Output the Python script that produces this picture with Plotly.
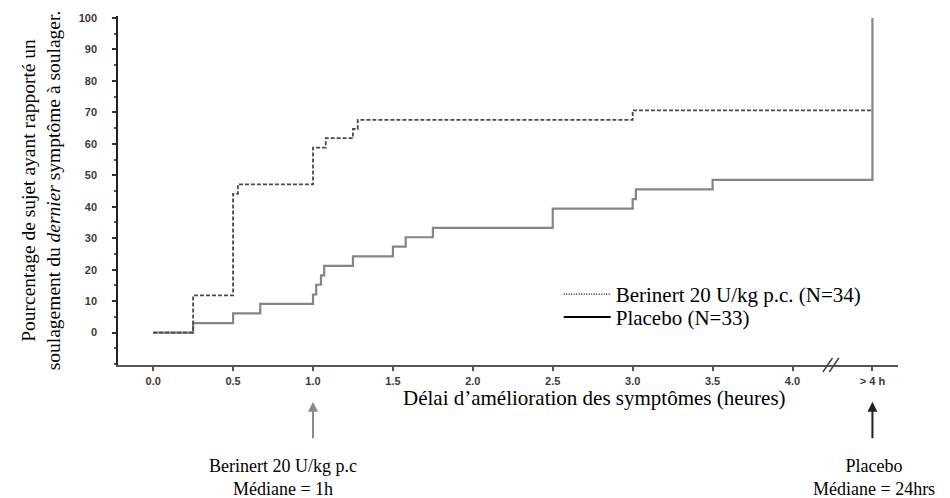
import plotly.graph_objects as go

# ---- data ----
ber_x = [0, 0.25, 0.5, 0.53, 1.0, 1.08, 1.25, 1.28, 3.0, 4.5]
ber_y = [0, 11.8, 44.1, 47.1, 58.8, 61.8, 64.7, 67.6, 70.6, 70.6]

pla_x = [0, 0.25, 0.5, 0.67, 1.0, 1.02, 1.05, 1.07, 1.25, 1.5, 1.58, 1.75,
         2.5, 3.0, 3.02, 3.5, 4.5]
pla_y = [0, 3.0, 6.1, 9.1, 12.1, 15.2, 18.2, 21.2, 24.2, 27.3, 30.3, 33.3,
         39.4, 42.4, 45.5, 48.5, 100]

x_tickvals = [0, 0.5, 1.0, 1.5, 2.0, 2.5, 3.0, 3.5, 4.0, 4.5]
x_ticktext = ["0.0", "0.5", "1.0", "1.5", "2.0", "2.5", "3.0", "3.5", "4.0", "> 4 h"]
y_tickvals = [0, 10, 20, 30, 40, 50, 60, 70, 80, 90, 100]

ber_name = "Berinert 20 U/kg p.c. (N=34)"
pla_name = "Placebo (N=33)"
ber_median_x = 1.0
pla_median_x = 4.5
break_x = 4.24

SERIF = "Liberation Serif"
SANS = "Liberation Sans"

fig = go.Figure()

fig.add_trace(go.Scatter(
    x=pla_x, y=pla_y, mode="lines", line_shape="hv",
    line=dict(color="#858585", width=2.2), showlegend=False, name=pla_name))
fig.add_trace(go.Scatter(
    x=ber_x, y=ber_y, mode="lines", line_shape="hv",
    line=dict(color="#4a4a4a", width=1.8, dash="4px,2px"), showlegend=False,
    name=ber_name))

# legend-only entries (styled like the reference legend)
fig.add_trace(go.Scatter(
    x=[None], y=[None], mode="lines", name=ber_name, legend="legend",
    line=dict(color="black", width=1.2, dash="1px,1.5px")))
fig.add_trace(go.Scatter(
    x=[None], y=[None], mode="lines", name=pla_name, legend="legend2",
    line=dict(color="black", width=2)))

leg_common = dict(xanchor="left", yanchor="top", bgcolor="rgba(0,0,0,0)",
                  font=dict(family=SERIF, size=21), itemwidth=47)

fig.update_layout(
    width=950, height=498,
    margin=dict(l=118, r=52, t=16, b=133),
    paper_bgcolor="white", plot_bgcolor="white",
    font=dict(family=SERIF, size=16, color="black"),
    legend=dict(x=0.565, y=0.261, **leg_common),
    legend2=dict(x=0.565, y=0.195, **leg_common),
    xaxis=dict(range=[-0.22, 4.66], showgrid=False, zeroline=False,
               showline=True, linecolor="#555", linewidth=1.5,
               tickvals=x_tickvals, ticktext=x_ticktext,
               ticks="outside", ticklen=4, tickcolor="#555", tickwidth=1.5,
               tickfont=dict(family=SANS, size=11, color="#3a3a3a", weight="bold"),
               ticklabelstandoff=1),
    yaxis=dict(range=[-10.3, 100.6], showgrid=False, zeroline=False,
               showline=True, linecolor="#222", linewidth=1.5,
               tickvals=y_tickvals, ticks="outside", ticklen=4,
               tickcolor="#333", tickwidth=1.5,
               minor=dict(dtick=5, tick0=0, ticks="outside", ticklen=2,
                          tickcolor="#555"),
               tickfont=dict(family=SANS, size=11, color="#3a3a3a", weight="bold"),
               ticklabelstandoff=13,
               title=dict(text="Pourcentage de sujet ayant rapporté un<br>"
                               "soulagement du <i>dernier</i> symptôme à soulager.",
                          font=dict(family=SERIF, size=19.5), standoff=13)),
)

# axis break marks
for dx in (-0.02, 0.02):
    fig.add_shape(type="line", xref="x", yref="paper",
                  x0=break_x + dx - 0.03, x1=break_x + dx + 0.03,
                  y0=-0.02, y1=0.02, line=dict(color="#444", width=1.5))

# x-axis title
fig.add_annotation(text="Délai d’amélioration des symptômes (heures)",
                   xref="paper", yref="paper", x=0.611, y=-0.095,
                   xanchor="center", yanchor="middle", showarrow=False,
                   font=dict(family=SERIF, size=21))

# median arrows
fig.add_annotation(x=ber_median_x, y=-0.105, xref="x", yref="paper", text="",
                   showarrow=True, ax=0, ay=38, arrowhead=2, arrowsize=1,
                   arrowwidth=2, arrowcolor="#8a8a8a")
fig.add_annotation(x=pla_median_x, y=-0.105, xref="x", yref="paper", text="",
                   showarrow=True, ax=0, ay=38, arrowhead=2, arrowsize=1,
                   arrowwidth=2, arrowcolor="#222")

fig.add_annotation(text="Berinert 20 U/kg p.c<br>Médiane = 1h",
                   xref="paper", yref="paper", x=0.2115, y=-0.322,
                   xanchor="center", yanchor="middle", showarrow=False,
                   font=dict(family=SERIF, size=18))
fig.add_annotation(text="Placebo<br>Médiane = 24hrs",
                   xref="paper", yref="paper", x=0.969, y=-0.322,
                   xanchor="center", yanchor="middle", showarrow=False,
                   font=dict(family=SERIF, size=18))

fig.write_html("out.html")
